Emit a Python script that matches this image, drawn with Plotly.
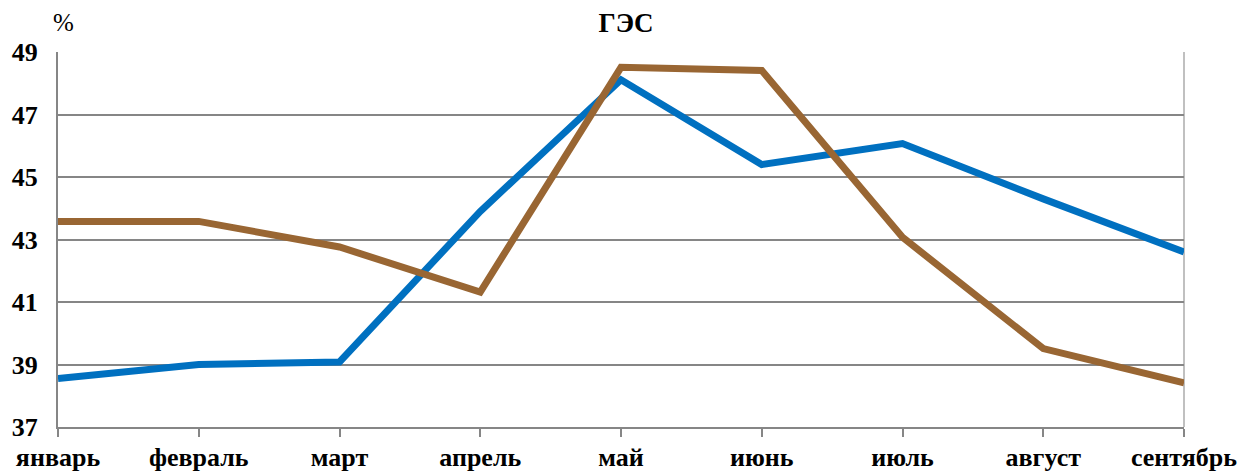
import plotly.graph_objects as go

# Monthly share of hydro generation, %
months = ["январь", "февраль", "март", "апрель", "май", "июнь", "июль", "август", "сентябрь"]
series_blue = [38.55, 39.0, 39.08, 43.9, 48.11, 45.4, 46.07, 44.3, 42.6]
series_brown = [43.58, 43.58, 42.76, 41.32, 48.51, 48.41, 43.07, 39.51, 38.41]
y_ticks = [37, 39, 41, 43, 45, 47, 49]

FONT = "Liberation Serif"
x = list(range(len(months)))

fig = go.Figure()
fig.add_trace(go.Scatter(x=x, y=series_blue, mode="lines",
                         line=dict(color="#0070C0", width=7), showlegend=False))
fig.add_trace(go.Scatter(x=x, y=series_brown, mode="lines",
                         line=dict(color="#996633", width=7), showlegend=False))

fig.update_layout(
    width=1252, height=474,
    margin=dict(l=58, r=68, t=52, b=47, autoexpand=False),
    paper_bgcolor="white", plot_bgcolor="white",
    font=dict(family=FONT, size=24, color="black"),
    title=dict(text="<b>ГЭС</b>", x=0.5, xanchor="center", y=0.953, yanchor="middle",
               font=dict(family=FONT, size=27, color="black")),
    annotations=[dict(text="%", xref="paper", yref="paper", x=0.0, y=1.0,
                      xanchor="center", yanchor="middle", xshift=5, yshift=30,
                      showarrow=False, font=dict(family=FONT, size=25, color="black"))],
)
fig.update_xaxes(
    range=[0, len(months) - 1], tickvals=x, ticktext=[f"<b>{m}</b>" for m in months],
    showgrid=False, showline=True, linecolor="#868686", linewidth=2,
    ticks="outside", ticklen=8, tickwidth=2, tickcolor="#868686",
    mirror=False, zeroline=False, automargin=False, ticklabelstandoff=-2,
    tickfont=dict(family=FONT, size=26),
)
fig.update_yaxes(
    range=[37, 49], tickvals=y_ticks, ticktext=[f"<b>{v}</b>" for v in y_ticks],
    showgrid=True, gridcolor="#868686", gridwidth=2,
    showline=True, linecolor="#868686", linewidth=2, zeroline=False,
    ticks="", ticklabelstandoff=13, automargin=False,
    tickfont=dict(family=FONT, size=26),
)
# light frame line on the right edge of the plot area
fig.add_shape(type="line", xref="paper", yref="paper", x0=1, x1=1, y0=0, y1=1,
              line=dict(color="#C0C0C0", width=2), layer="below")

fig.write_html("out.html")
